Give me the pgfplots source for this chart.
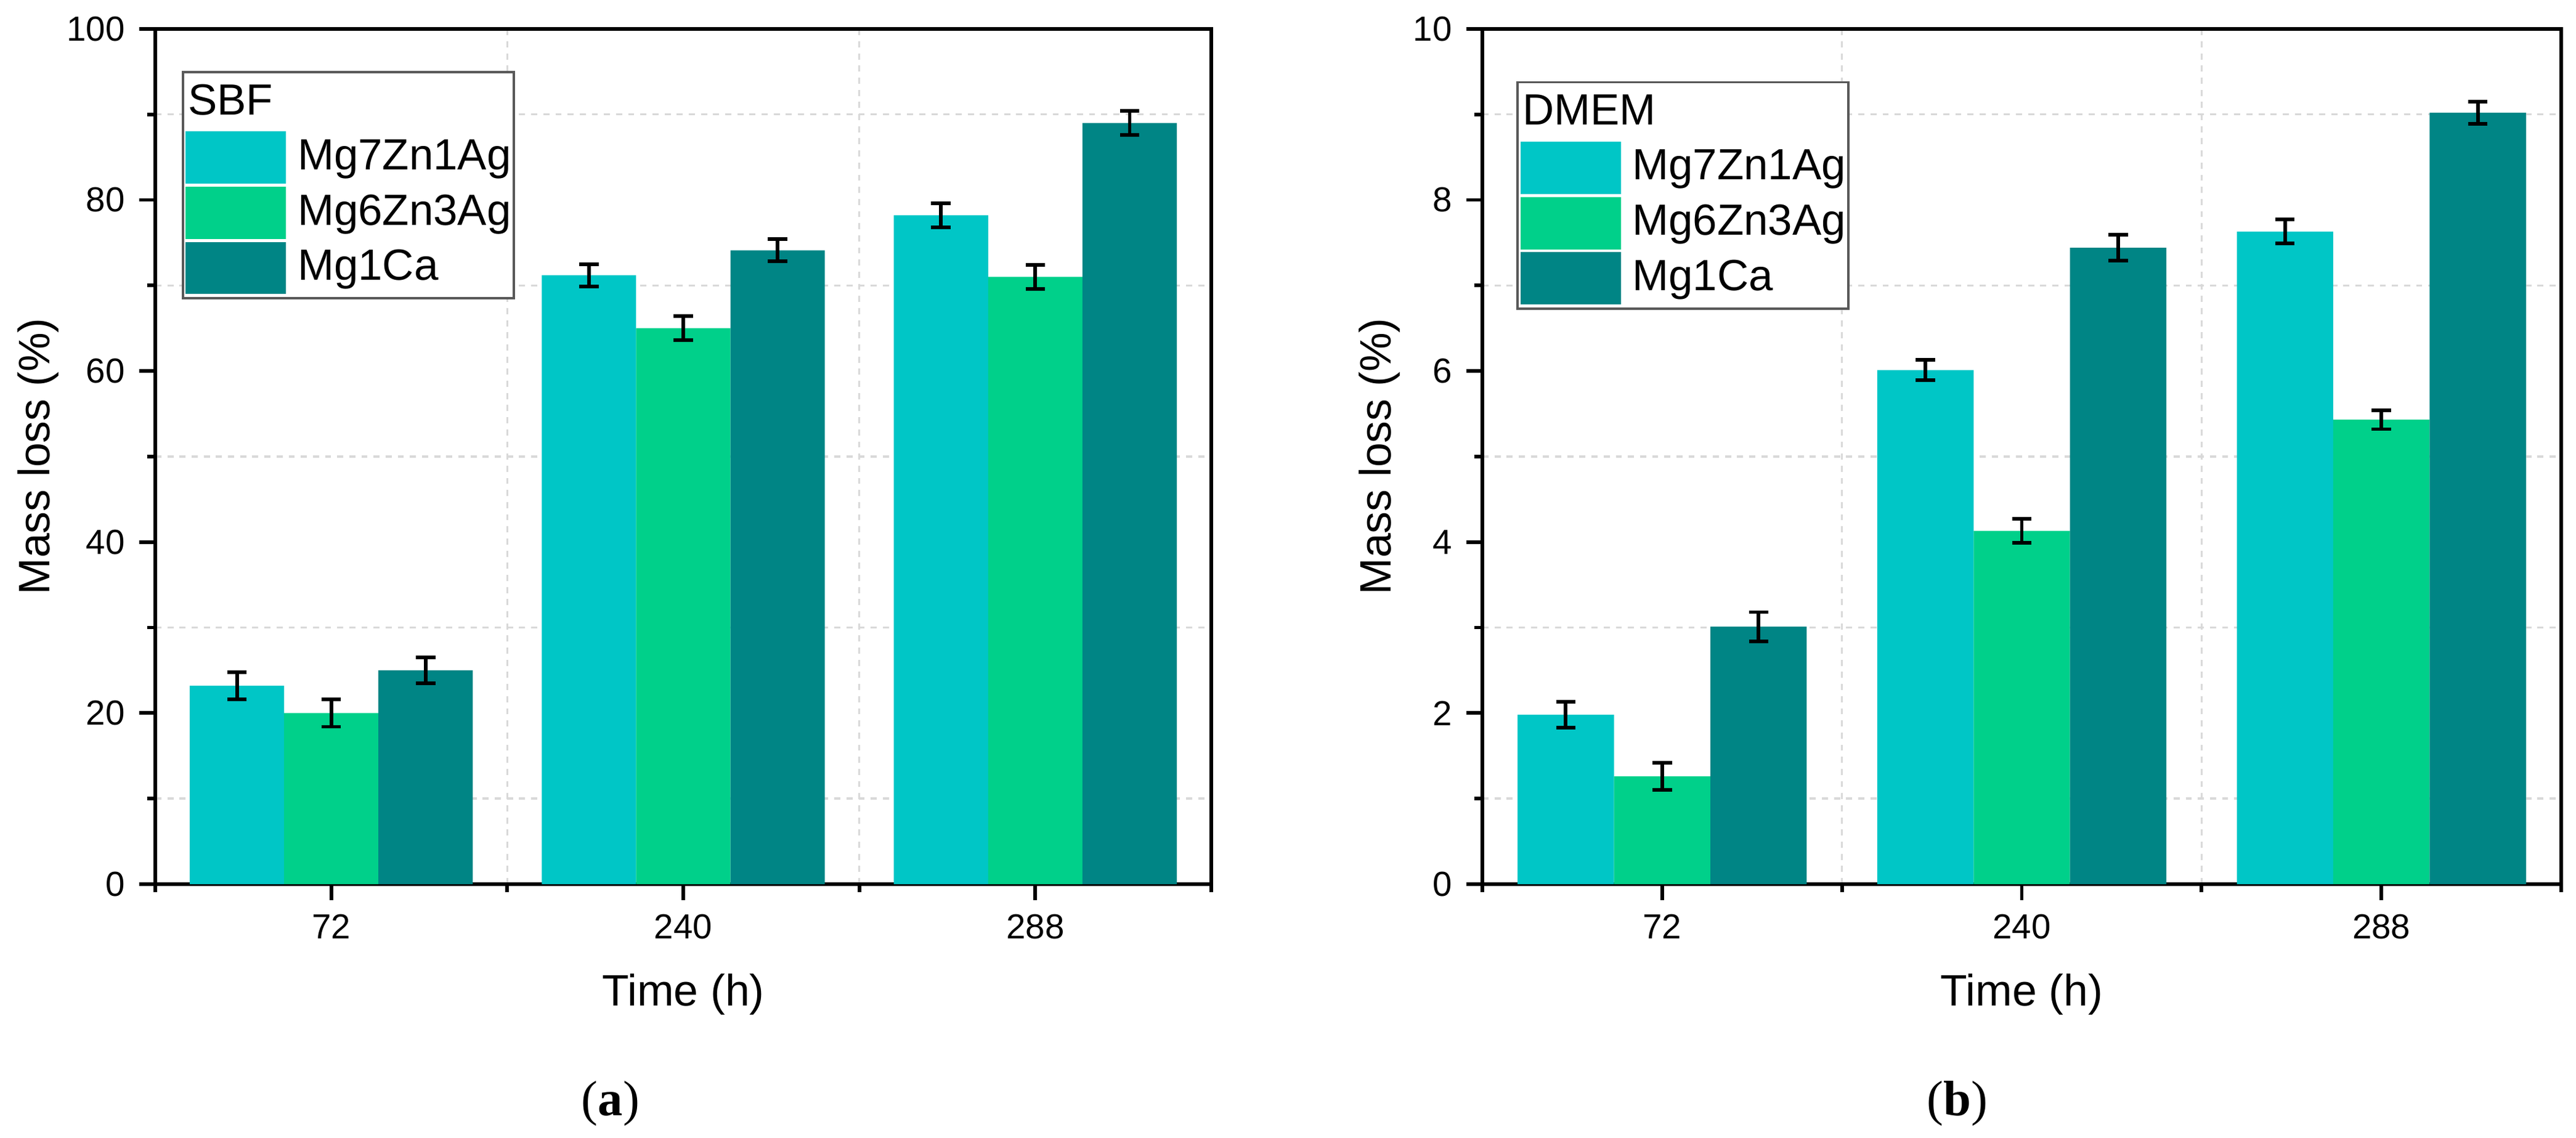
\documentclass[border=0pt]{standalone}
\usepackage{fontspec}
\setmainfont{Liberation Sans}
\newfontfamily\capfont{Liberation Serif}
\usepackage{pgfplots}
\pgfplotsset{compat=1.18}

\definecolor{cA}{HTML}{00C6C6}
\definecolor{cB}{HTML}{00D08A}
\definecolor{cC}{HTML}{008585}

\newcommand\labfont{\fontsize{10.9}{13}\selectfont}
\newcommand\tickfont{\fontsize{8.6}{10}\selectfont}
\newcommand\legfont{\fontsize{10.8}{13}\selectfont}

\pgfplotsset{
  panel/.style={
    scale only axis,
    height=7.436cm,
    anchor=south west,
    ybar=0pt,
    bar width=0.268,
    xmin=-0.5, xmax=2.5, ymin=0,
    enlargelimits=false,
    xtick={0,1,2},
    xticklabels={72,240,288},
    minor xtick={-0.5,0.5,1.5,2.5},
    minor y tick num=1,
    xtick pos=bottom, ytick pos=left,
    tick align=outside,
    major tick length=4pt,
    minor tick length=2pt,
    axis line style={line width=0.9pt},
    tick style={line width=0.9pt, black},
    xminorgrids, yminorgrids,
    minor grid style={draw=gray!30, dash pattern=on 1.5pt off 1.5pt, line width=0.5pt},
    tick label style={font=\tickfont},
    /pgf/number format/assume math mode=true,
    label style={font=\labfont},
    xlabel={Time (h)},
    ylabel={Mass loss (\%)},
    xlabel style={at={(axis description cs:0.5,-0.129)}, anchor=center},
    error bars/y dir=both,
    error bars/y explicit,
    error bars/error bar style={line width=0.9pt, black},
    error bars/error mark options={rotate=90, mark size=2.4pt, line width=0.9pt, black},
    legend image code/.code={
      \fill[##1, draw=none] (0cm,-0.2275cm) rectangle (0.873cm,0.2275cm);
      \path[draw=none, fill=none] (0cm,-0.24cm) rectangle (0.873cm,0.24cm);},
    legend style={anchor=north west, draw=gray!70!black, line width=0.6pt,
      inner sep=0.7pt, row sep=0pt, column sep=0.1cm,
      nodes={inner sep=0pt, font=\legfont, anchor=west}},
    legend cell align=left,
  },
  % title row of the legend: text in the image column, not widening it
  legtitle/.style={legend image code/.code={
      \node[overlay, draw=none, fill=none, anchor=west, inner sep=0pt, font=\legfont] at (0.01cm,0) {#1};
      \path[draw=none, fill=none] (0cm,-0.24cm) rectangle (0.873cm,0.24cm);}},
}

\begin{document}
\begin{tikzpicture}
\path[use as bounding box] (0,0) rectangle (22.398cm,9.894cm);

% (a) SBF
\begin{axis}[panel, at={(1.350cm,2.207cm)}, width=9.182cm,
    ymax=100, ytick={0,20,...,100},
    ylabel style={at={(axis description cs:-0.1109,0.5)}, anchor=center},
    legend style={at={(0.025,0.951)}}]
  \addlegendimage{legtitle=SBF, draw=none, fill=none}
  \addlegendentry{}
  \addplot[fill=cA, draw=none] coordinates {(0,23.2) +- (0,1.6) (1,71.2) +- (0,1.3) (2,78.2) +- (0,1.4)};
  \addlegendentry{Mg7Zn1Ag}
  \addplot[fill=cB, draw=none] coordinates {(0,20.0) +- (0,1.6) (1,65.0) +- (0,1.4) (2,71.0) +- (0,1.4)};
  \addlegendentry{Mg6Zn3Ag}
  \addplot[fill=cC, draw=none] coordinates {(0,25.0) +- (0,1.5) (1,74.1) +- (0,1.3) (2,89.0) +- (0,1.4)};
  \addlegendentry{Mg1Ca}
\end{axis}

% (b) DMEM
\begin{axis}[panel, at={(12.889cm,2.207cm)}, width=9.380cm,
    ymax=10, ytick={0,2,...,10},
    ylabel style={at={(axis description cs:-0.0954,0.5)}, anchor=center},
    legend style={at={(0.0314,0.939)}}]
  \addlegendimage{legtitle=DMEM, draw=none, fill=none}
  \addlegendentry{}
  \addplot[fill=cA, draw=none] coordinates {(0,1.98) +- (0,0.15) (1,6.01) +- (0,0.12) (2,7.63) +- (0,0.14)};
  \addlegendentry{Mg7Zn1Ag}
  \addplot[fill=cB, draw=none] coordinates {(0,1.26) +- (0,0.16) (1,4.13) +- (0,0.14) (2,5.43) +- (0,0.11)};
  \addlegendentry{Mg6Zn3Ag}
  \addplot[fill=cC, draw=none] coordinates {(0,3.01) +- (0,0.17) (1,7.44) +- (0,0.15) (2,9.02) +- (0,0.13)};
  \addlegendentry{Mg1Ca}
\end{axis}

\node[font=\capfont\fontsize{12.3}{14}\selectfont] at (5.309cm,0.30cm) {(\textbf{a})};
\node[font=\capfont\fontsize{12.3}{14}\selectfont] at (17.019cm,0.30cm) {(\textbf{b})};
\end{tikzpicture}
\end{document}
